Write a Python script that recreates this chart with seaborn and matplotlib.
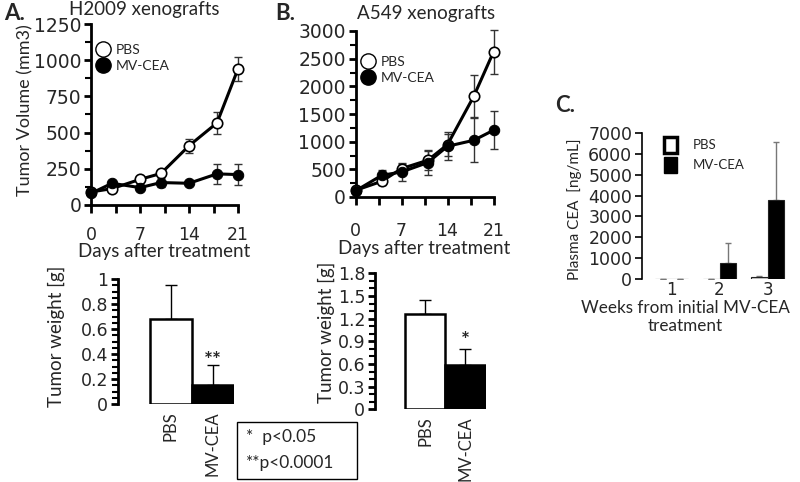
import numpy as np
import pandas as pd
import matplotlib
matplotlib.use("Agg")
import matplotlib.pyplot as plt
from matplotlib.lines import Line2D
from matplotlib.patches import Patch, Rectangle
import seaborn as sns

sns.set_theme(style="ticks")
plt.rcParams['font.family'] = ['Lato', 'DejaVu Sans']

# ---------------- data ----------------
days_A = [0, 3, 7, 10, 14, 18, 21]
pbs_A = [90, 113, 177, 218, 409, 567, 940]
pbs_A_err = [10, 15, 15, 20, 48, 75, 85]
mv_A = [80, 150, 120, 155, 150, 215, 210]
mv_A_err = [10, 12, 15, 30, 12, 70, 70]

days_B = [0, 4, 7, 11, 14, 18, 21]
pbs_B = [120, 284, 513, 664, 947, 1821, 2622]
pbs_B_err = [30, 60, 90, 170, 200, 380, 400]
mv_B = [110, 392, 452, 622, 917, 1025, 1206]
mv_B_err = [30, 90, 165, 225, 250, 400, 345]

groups = ["PBS", "MV-CEA"]
weight_A = [0.678, 0.152]
weight_A_err = [0.278, 0.158]
weight_B = [1.26, 0.586]
weight_B_err = [0.186, 0.208]

weeks = ["1", "2", "3"]
cea_pbs = [15, 30, 100]
cea_pbs_err = [0, 0, 80]
cea_mv = [15, 800, 3780]
cea_mv_err = [0, 950, 2760]

W, H = 800, 482
fig = plt.figure(figsize=(8, 4.82), dpi=100)


def rect(x0, x1, y_bottom, y_top):
    return [x0 / W, 1 - y_bottom / H, (x1 - x0) / W, (y_bottom - y_top) / H]


def set_ylabel_px(ax, text, x_px, y_px, fs):
    ax.set_ylabel(text, fontsize=fs)
    inv = ax.transAxes.inverted()
    fx, fy = fig.transFigure.transform((x_px / W, 1 - y_px / H))
    ax_x, ax_y = inv.transform((fx, fy))
    ax.yaxis.set_label_coords(ax_x, ax_y)
    ax.yaxis.label.set_va("center")


def style_axes(ax, bottom=True):
    sns.despine(ax=ax, bottom=not bottom)
    for s in ["left", "bottom"]:
        ax.spines[s].set_linewidth(2)
        ax.spines[s].set_color("black")
    ax.tick_params(axis="both", which="major", direction="out", length=6, width=2,
                   color="black", labelsize=12, pad=2)
    ax.tick_params(axis="both", which="minor", direction="out", length=4, width=1.5,
                   color="black")
    ax.set_facecolor("none")


def fix_tick_font(ax):
    for lab in ax.get_yticklabels() + ax.get_xticklabels():
        lab.set_family('DejaVu Sans')


def line_panel(ax, days, pbs, pbs_err, mv, mv_err, ymax, ymaj, ymin_step, xpad, xlabpad):
    dfp = pd.DataFrame({"day": days, "v": pbs})
    dfm = pd.DataFrame({"day": days, "v": mv})
    ax.errorbar(days, pbs, yerr=pbs_err, fmt="none", ecolor="#333333", elinewidth=1,
                capsize=3, capthick=1, zorder=2, clip_on=False)
    ax.errorbar(days, mv, yerr=mv_err, fmt="none", ecolor="#333333", elinewidth=1,
                capsize=3, capthick=1, zorder=2, clip_on=False)
    sns.lineplot(data=dfp, x="day", y="v", ax=ax, color="black", lw=2.2, marker="o",
                 markersize=7.5, markerfacecolor="white", markeredgecolor="black",
                 markeredgewidth=1.2, zorder=3, clip_on=False)
    sns.lineplot(data=dfm, x="day", y="v", ax=ax, color="black", lw=2.2, marker="o",
                 markersize=7.5, markerfacecolor="black", markeredgecolor="black",
                 zorder=4, clip_on=False)
    ax.set_xlim(0, 21)
    ax.set_ylim(0, ymax)
    ax.set_xticks([0, 7, 14, 21])
    ax.set_xticks([3.5, 10.5, 17.5], minor=True)
    ax.set_yticks(np.arange(0, ymax + 1, ymaj))
    ax.set_yticks(np.arange(0, ymax + 1, ymin_step), minor=True)
    ax.set_xlabel("Days after treatment", fontsize=13.5, labelpad=xlabpad)
    ax.set_ylabel("")
    style_axes(ax)
    ax.tick_params(axis="x", which="minor", length=6, width=2)
    ax.tick_params(axis="x", which="major", pad=xpad, labelsize=12.5)
    ax.tick_params(axis="y", labelsize=13.5, length=5, pad=2)
    fix_tick_font(ax)


# ---------- Panel A line ----------
axA = fig.add_axes(rect(91, 238, 205, 24))
line_panel(axA, days_A, pbs_A, pbs_A_err, mv_A, mv_A_err, 1250, 250, 125, 9, -0.5)
set_ylabel_px(axA, "Tumor Volume (mm3)", 25, 110, 13)

# ---------- Panel B line ----------
axB = fig.add_axes(rect(355.5, 493.5, 197, 31))
line_panel(axB, days_B, pbs_B, pbs_B_err, mv_B, mv_B_err, 3000, 500, 250, 12, 0)

fig.text(144 / W, 1 - 10 / H, "H2009 xenografts", fontsize=13.5, ha="center", va="center")
fig.text(426 / W, 1 - 13 / H, "A549 xenografts", fontsize=13.5, ha="center", va="center")

leg_handles = [
    Line2D([], [], ls="none", marker="o", markersize=11, markerfacecolor="white",
           markeredgecolor="black", markeredgewidth=1),
    Line2D([], [], ls="none", marker="o", markersize=11, markerfacecolor="black",
           markeredgecolor="black"),
]
for ax, (lx, ly) in [(axA, (95, 44)), (axB, (360, 56))]:
    ax.legend(leg_handles, groups, loc="upper left", bbox_to_anchor=(lx / W, 1 - ly / H),
              bbox_transform=fig.transFigure, frameon=False, fontsize=10,
              handletextpad=0.3, labelspacing=0.3, borderpad=0, handlelength=1.2,
              borderaxespad=0)


# ---------- bottom bar panels ----------
def weight_panel(ax, vals, errs, ymax, ymaj, ymin_step, star, star_off, fmt, ylab_xy):
    df = pd.DataFrame({"group": groups, "w": vals})
    sns.barplot(data=df, x="group", y="w", hue="group", palette=["white", "black"],
                edgecolor="black", linewidth=1.8, width=1.0, ax=ax, legend=False,
                errorbar=None, zorder=2)
    ax.errorbar([0, 1], vals, yerr=[[0, 0], errs], fmt="none", ecolor="black",
                elinewidth=1, capsize=4, capthick=1, zorder=1)
    ax.set_xlim(-1.25, 1.5)
    ax.set_ylim(0, ymax)
    ax.set_yticks(np.arange(0, ymax + 1e-9, ymaj))
    ax.set_yticks(np.arange(0, ymax + 1e-9, ymin_step), minor=True)
    ax.yaxis.set_major_formatter(matplotlib.ticker.FuncFormatter(fmt))
    ax.set_xlabel("")
    style_axes(ax, bottom=False)
    ax.tick_params(axis="x", length=0, pad=5, labelsize=12, rotation=90)
    ax.tick_params(axis="y", labelsize=12.5, length=5, pad=2)
    for lab in ax.get_xticklabels():
        lab.set_family(['Lato'])
    for lab in ax.get_yticklabels():
        lab.set_family('DejaVu Sans')
    set_ylabel_px(ax, "Tumor weight [g]", ylab_xy[0], ylab_xy[1], 13.5)
    ax.annotate(star, xy=(1, vals[1] + errs[1]), xytext=(0, star_off),
                textcoords="offset pixels", ha="center", va="baseline", fontsize=15,
                fontweight="bold")


axWA = fig.add_axes(rect(118, 233.5, 404, 279))
weight_panel(axWA, weight_A, weight_A_err, 1.0, 0.2, 0.05, "**", -2,
             lambda v, p: "0" if abs(v) < 1e-9 else ("1" if abs(v - 1) < 1e-9 else f"{v:.1f}"),
             (56, 336))
axWB = fig.add_axes(rect(375, 485.5, 409.3, 273.3))
weight_panel(axWB, weight_B, weight_B_err, 1.8, 0.3, 0.1, "*", 2,
             lambda v, p: "0" if abs(v) < 1e-9 else f"{v:.1f}", (326, 332))

# ---------- Panel C ----------
axC = fig.add_axes(rect(642, 797, 279.3, 132.7))
dfc = pd.DataFrame({"week": weeks * 2, "cea": cea_pbs + cea_mv,
                    "group": ["PBS"] * 3 + ["MV-CEA"] * 3})
bw = 0.69
sns.barplot(data=dfc, x="week", y="cea", hue="group", palette=["#d0d0d0", "black"],
            edgecolor="#222222", linewidth=0.8, width=bw, ax=axC, errorbar=None,
            legend=False, zorder=2)
off = bw / 4
axC.errorbar(np.arange(3) - off, cea_pbs, yerr=[[0] * 3, cea_pbs_err], fmt="none",
             ecolor="#777777", elinewidth=1, capsize=2, capthick=1, zorder=1)
axC.errorbar(np.arange(3) + off, cea_mv, yerr=[[0] * 3, cea_mv_err], fmt="none",
             ecolor="#777777", elinewidth=1, capsize=2, capthick=1, zorder=1)
axC.set_xlim(-0.61, 2.61)
axC.set_ylim(0, 7000)
axC.set_yticks(np.arange(0, 7001, 1000))
axC.set_xlabel("")
style_axes(axC, bottom=False)
axC.spines["left"].set_linewidth(1.2)
axC.tick_params(axis="x", length=0, labelsize=12, pad=1)
axC.tick_params(axis="y", labelsize=12.5, width=1.2, length=5)
fix_tick_font(axC)
set_ylabel_px(axC, "Plasma CEA  [ng/mL]", 575, 209, 11)
fig.text(685 / W, 1 - 317 / H, "Weeks from initial MV-CEA\ntreatment", fontsize=12.3,
         ha="center", va="center", multialignment="center", linespacing=1.2)
c_handles = [Patch(facecolor="white", edgecolor="black", linewidth=2.5),
             Patch(facecolor="black", edgecolor="black")]
axC.legend(c_handles, groups, loc="upper left", bbox_to_anchor=(664 / W, 1 - 137 / H),
           bbox_transform=fig.transFigure, frameon=False, fontsize=9.5,
           handlelength=1.0, handleheight=1.5, handletextpad=1.2, labelspacing=0.3,
           borderpad=0, borderaxespad=0)

# ---------- panel letters ----------
fig.text(4 / W, 1 - 13 / H, "A.", fontsize=16, fontweight="bold", va="center")
fig.text(275 / W, 1 - 13 / H, "B.", fontsize=16, fontweight="bold", va="center")
fig.text(555 / W, 1 - 105 / H, "C.", fontsize=16, fontweight="bold", va="center")

# ---------- p-value box ----------
fig.patches.append(Rectangle((237 / W, 1 - 479 / H), 120 / W, 57 / H,
                             transform=fig.transFigure, fill=False, edgecolor="black",
                             linewidth=1))
fig.text(246 / W, 1 - 437 / H, "*  p<0.05", fontsize=12.5, va="center")
fig.text(246 / W, 1 - 463 / H, "**p<0.0001", fontsize=12.5, va="center")

fig.savefig("out.png", dpi=100, facecolor="white")
